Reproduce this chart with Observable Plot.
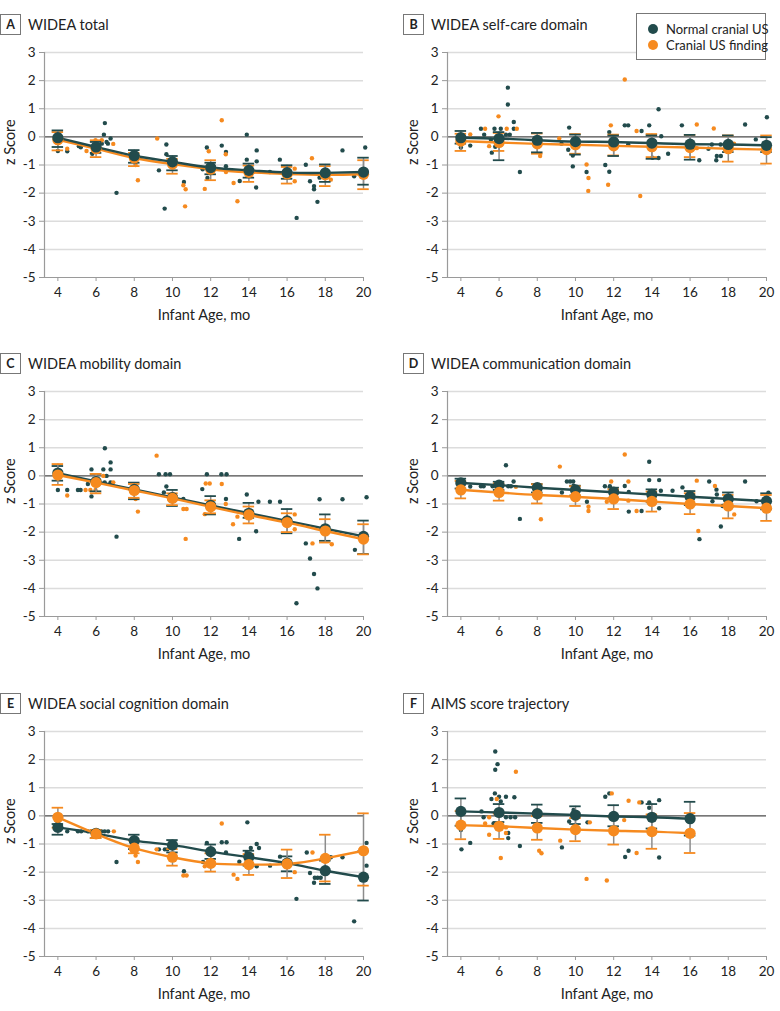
<!DOCTYPE html>
<html>
<head>
<meta charset="utf-8">
<script src="https://cdn.jsdelivr.net/npm/d3@7"></script>
<script src="https://cdn.jsdelivr.net/npm/@observablehq/plot@0.6"></script>
<style>
  html, body { margin: 0; padding: 0; background: #fff; }
  #page { position: relative; width: 780px; height: 1011px; font-family: Lato, "Noto Sans", sans-serif; color: #222; }
  .title { position: absolute; display: flex; align-items: center; font-size: 14.5px; white-space: nowrap; }
  .title .box { display: inline-block; width: 19px; height: 19px; line-height: 19px; border: 1px solid #777; text-align: center; font-weight: bold; font-size: 12.5px; margin-right: 7px; }
  .legend { position: absolute; left: 636px; top: 13px; width: 128px; height: 45px; border: 1px solid #777; background: #fff; z-index: 5; font-size: 13px; }
  .legend .row { position: absolute; left: 11px; display: flex; align-items: center; white-space: nowrap; height: 16px; }
  .legend .sw { width: 10px; height: 10px; border-radius: 50%; margin-right: 8px; flex: none; }
</style>
</head>
<body>
<div id="page"></div>
<script>
// ---------- shared scales / labels ----------
const ages = [4, 6, 8, 10, 12, 14, 16, 18, 20];
const agesF = [4, 6, 8, 10, 12, 14, 16];
const xTicks = [4, 6, 8, 10, 12, 14, 16, 18, 20];
const yTicks = [-5, -4, -3, -2, -1, 0, 1, 2, 3];
const gridValues = [-4, -3, -2, -1, 1, 2, 3];
const seriesNames = ["Normal cranial US", "Cranial US finding"];
const panelLetters = ["A", "B", "C", "D", "E", "F"];
const panelTitles = ["WIDEA total", "WIDEA self-care domain", "WIDEA mobility domain", "WIDEA communication domain", "WIDEA social cognition domain", "AIMS score trajectory"];
const xLabel = "Infant Age, mo";
const yLabel = "z Score";

// ---------- A: WIDEA total ----------
const aNormMean = [-0.03, -0.36, -0.67, -0.89, -1.09, -1.19, -1.27, -1.28, -1.25];
const aNormLo   = [-0.36, -0.57, -0.92, -1.19, -1.33, -1.45, -1.49, -1.60, -1.70];
const aNormHi   = [0.23, -0.18, -0.47, -0.68, -0.92, -0.95, -1.01, -0.98, -0.74];
const aFindMean = [-0.10, -0.42, -0.75, -0.97, -1.15, -1.26, -1.32, -1.35, -1.33];
const aFindLo   = [-0.48, -0.72, -1.04, -1.31, -1.54, -1.60, -1.66, -1.75, -1.86];
const aFindHi   = [0.17, -0.12, -0.57, -0.78, -0.83, -1.02, -1.07, -1.04, -0.83];
const aNormPts = [[4.0,-0.5],[4.49,-0.51],[5.1,-0.33],[5.2,-0.37],[5.8,-0.6],[6.46,0.49],[6.41,0.08],[6.3,-0.24],[6.62,-0.24],[6.76,-0.06],[6.55,-0.18],[7.07,-1.99],[9.29,-1.19],[9.59,-2.55],[9.68,-0.27],[9.68,-0.62],[10.6,-1.6],[11.58,-1.15],[11.8,-0.38],[11.83,-1.46],[12.58,-0.31],[12.8,-0.54],[12.8,-1.04],[13.52,-1.57],[13.89,0.08],[13.89,-0.81],[14.41,-0.48],[14.41,-0.87],[14.38,-1.8],[15.1,-1.25],[15.62,-0.81],[16.5,-2.88],[16.98,-0.99],[17.2,-1.58],[17.41,-1.75],[17.41,-1.86],[17.59,-2.31],[17.7,-1.45],[18.9,-0.48],[19.51,-1.4],[20.09,-0.38]];
const aFindPts = [[4.49,-0.42],[5.5,-0.5],[5.97,-0.12],[6.3,-0.12],[6.9,-0.25],[8.07,-1.0],[8.19,-1.54],[9.2,-0.06],[10.57,-1.72],[10.69,-1.86],[10.66,-2.47],[11.69,-1.85],[11.9,-0.51],[12.58,0.59],[12.79,-0.62],[12.8,-1.25],[13.2,-1.64],[13.4,-2.29],[16.4,-1.13],[16.4,-1.58],[17.3,-0.76],[18.29,-1.52]];

// ---------- B: self-care ----------
const bNormMean = [-0.03, -0.06, -0.12, -0.17, -0.18, -0.22, -0.26, -0.27, -0.30];
const bNormLo   = [-0.24, -0.83, -0.55, -0.63, -0.68, -0.78, -0.81, -0.54, -0.54];
const bNormHi   = [0.21, 0.17, 0.14, 0.08, 0.05, 0.05, 0.07, 0.05, -0.01];
const bFindMean = [-0.15, -0.20, -0.25, -0.28, -0.32, -0.35, -0.38, -0.42, -0.45];
const bFindLo   = [-0.50, -0.50, -0.60, -0.60, -0.66, -0.72, -0.72, -0.88, -0.95];
const bFindHi   = [0.11, 0.14, 0.12, 0.10, 0.08, 0.10, 0.07, 0.05, 0.05];
const bNormPts = [[4.49,-0.31],[4.0,-0.38],[5.05,0.29],[5.22,0.08],[5.57,-0.1],[5.62,-0.56],[5.76,0.29],[5.8,-0.35],[6.09,0.29],[6.46,1.75],[6.46,1.15],[6.36,0.08],[6.56,0.08],[6.77,0.53],[6.77,0.29],[7.09,-1.25],[9.27,-0.24],[9.67,0.33],[9.62,-0.46],[9.86,-1.05],[9.86,-0.66],[10.58,-1.25],[11.56,-1.0],[11.77,-1.24],[11.77,0.17],[12.58,0.41],[12.76,0.41],[12.76,-0.27],[13.46,0.21],[13.86,0.41],[14.03,-0.74],[14.35,0.98],[14.35,-0.75],[14.49,0.02],[14.85,-0.6],[15.57,0.41],[16.48,-0.83],[16.96,-0.42],[17.14,-0.27],[17.37,-0.83],[17.4,-0.68],[17.61,-0.68],[17.6,-0.27],[18.88,0.44],[19.44,-0.09],[20.02,0.7]];
const bFindPts = [[4.49,0.09],[5.27,0.29],[5.48,-0.33],[5.97,0.73],[6.4,0.29],[6.93,0.29],[8.15,-0.68],[9.15,-0.06],[10.58,-0.98],[10.68,-1.46],[10.67,-1.92],[11.71,-1.7],[11.85,0.41],[12.58,2.04],[13.2,0.21],[13.39,-2.1],[16.35,0.44],[16.35,-0.4],[17.24,0.3],[18.3,-0.24]];

// ---------- C: mobility ----------
const cNormMean = [0.10, -0.20, -0.48, -0.77, -1.05, -1.33, -1.60, -1.88, -2.15];
const cNormLo   = [-0.17, -0.55, -0.83, -1.07, -1.37, -1.49, -2.04, -2.31, -2.78];
const cNormHi   = [0.35, 0.07, -0.24, -0.50, -0.72, -0.96, -1.18, -1.37, -1.59];
const cFindMean = [0.03, -0.24, -0.52, -0.80, -1.10, -1.39, -1.66, -1.96, -2.25];
const cFindLo   = [-0.32, -0.62, -0.78, -1.04, -1.33, -1.69, -2.00, -2.37, -2.79];
const cFindHi   = [0.42, 0.07, -0.29, -0.62, -0.87, -1.09, -1.33, -1.54, -1.72];
const cNormPts = [[4.0,-0.5],[4.49,-0.5],[5.05,-0.5],[5.19,-0.5],[5.57,-0.29],[5.76,-0.73],[5.76,0.23],[6.46,0.98],[6.38,0.23],[6.45,-0.23],[6.55,0.0],[6.76,0.48],[6.76,0.23],[6.76,-0.23],[7.07,-2.16],[9.29,0.06],[9.64,0.06],[9.87,0.06],[9.55,-0.59],[9.68,-0.38],[10.57,-0.82],[11.56,-0.47],[11.8,0.06],[12.56,0.06],[12.83,0.06],[12.8,-0.82],[13.49,-2.24],[13.89,-0.66],[14.38,-1.97],[14.5,-0.92],[15.1,-0.92],[15.63,-0.92],[16.49,-4.53],[16.98,-2.4],[17.2,-2.94],[17.41,-3.49],[17.59,-4.0],[17.7,-0.83],[18.9,-0.83],[19.55,-2.63],[20.16,-0.76]];
const cFindPts = [[4.49,-0.7],[5.45,-0.5],[5.7,-0.5],[5.97,-0.5],[6.38,0.0],[6.9,-0.23],[8.07,-0.82],[8.19,-1.27],[9.17,0.72],[10.57,-1.18],[10.74,-1.18],[10.69,-2.24],[11.69,-1.36],[11.74,-0.27],[11.95,-0.27],[12.58,-0.29],[12.79,-1.0],[13.17,-1.72],[13.4,-1.45],[16.4,-1.37],[16.4,-1.9],[17.33,-2.4],[18.34,-2.43]];

// ---------- D: communication ----------
const dNormMean = [-0.25, -0.33, -0.42, -0.50, -0.58, -0.66, -0.74, -0.82, -0.90];
const dNormLo   = [-0.45, -0.50, -0.59, -0.70, -0.80, -0.92, -1.04, -1.10, -1.19];
const dNormHi   = [-0.10, -0.21, -0.29, -0.35, -0.42, -0.48, -0.54, -0.59, -0.62];
const dFindMean = [-0.50, -0.59, -0.68, -0.74, -0.82, -0.91, -1.00, -1.07, -1.15];
const dFindLo   = [-0.80, -0.88, -0.98, -1.07, -1.18, -1.27, -1.36, -1.51, -1.60];
const dFindHi   = [-0.18, -0.27, -0.30, -0.37, -0.48, -0.56, -0.62, -0.68, -0.68];
const dNormPts = [[4.49,-0.38],[5.05,-0.37],[5.19,-0.37],[5.66,-0.37],[6.36,0.38],[6.48,-0.37],[6.62,-0.37],[6.76,-0.2],[7.09,-1.53],[9.29,-0.59],[9.55,-0.2],[9.72,-0.2],[9.88,-0.2],[9.9,-0.35],[10.6,-0.92],[11.54,-0.37],[11.8,-0.37],[12.58,-0.36],[12.79,-0.57],[12.79,-1.27],[13.46,-1.25],[13.86,0.5],[13.86,-0.15],[14.38,-0.15],[14.47,-0.53],[14.38,-1.15],[15.08,-0.53],[15.6,-0.41],[16.49,-2.25],[17.0,-0.2],[17.17,-0.9],[17.38,-0.49],[17.4,-0.66],[17.61,-1.8],[17.7,-1.07],[18.88,-0.2],[19.48,-0.9],[20.1,-0.6]];
const dFindPts = [[6.88,-0.39],[8.19,-1.54],[9.18,0.33],[10.68,-1.1],[10.68,-1.25],[11.64,-0.92],[11.87,-0.2],[12.58,0.76],[12.77,-0.2],[12.77,-0.88],[13.2,-1.25],[16.35,-0.17],[16.43,-1.96],[17.3,-0.36],[18.31,-1.37]];

// ---------- E: social cognition ----------
const eNormMean = [-0.41, -0.62, -0.88, -1.04, -1.27, -1.47, -1.68, -1.95, -2.18];
const eNormLo   = [-0.67, -0.79, -1.18, -1.30, -1.53, -1.77, -1.97, -2.42, -3.01];
const eNormHi   = [-0.29, -0.50, -0.67, -0.86, -1.02, -1.24, -1.44, -1.59, -1.26];
const eFindMean = [-0.05, -0.64, -1.15, -1.47, -1.69, -1.73, -1.71, -1.51, -1.24];
const eFindLo   = [-0.42, -0.79, -1.33, -1.77, -1.98, -2.10, -2.21, -2.33, -2.48];
const eFindHi   = [0.29, -0.50, -0.88, -1.18, -1.33, -1.36, -1.20, -0.67, 0.09];
const eNormPts = [[4.49,-0.55],[5.05,-0.55],[5.22,-0.55],[5.57,-0.55],[5.8,-0.55],[6.1,-0.55],[6.28,-0.55],[6.45,-0.55],[6.63,-0.55],[7.07,-1.64],[9.29,-1.19],[9.6,-1.19],[9.73,-1.19],[10.6,-1.97],[11.6,-1.64],[11.8,-0.96],[12.58,-0.94],[12.83,-0.94],[12.8,-1.3],[13.5,-1.63],[13.92,-0.23],[13.89,-1.3],[14.1,-1.14],[14.41,-1.0],[14.53,-1.14],[14.41,-1.79],[15.11,-1.77],[15.63,-1.45],[16.49,-2.95],[17.03,-1.3],[17.2,-2.03],[17.41,-2.38],[17.45,-2.2],[17.6,-2.2],[17.76,-2.2],[18.29,-1.47],[18.9,-1.47],[19.51,-3.75],[20.16,-0.96],[20.16,-1.77]];
const eFindPts = [[6.93,-0.55],[8.07,-1.41],[8.19,-1.64],[9.17,-1.19],[10.57,-2.12],[10.74,-2.12],[11.69,-1.79],[12.58,-0.27],[13.2,-2.09],[13.4,-2.24],[16.4,-2.0],[17.33,-1.3]];

// ---------- F: AIMS ----------
const fNormMean = [0.16, 0.12, 0.08, 0.03, -0.02, -0.05, -0.10];
const fNormLo   = [-0.35, -0.22, -0.25, -0.29, -0.37, -0.45, -0.70];
const fNormHi   = [0.62, 0.42, 0.40, 0.34, 0.38, 0.42, 0.50];
const fFindMean = [-0.33, -0.37, -0.43, -0.49, -0.53, -0.56, -0.62];
const fFindLo   = [-0.83, -0.82, -0.85, -0.90, -1.02, -1.17, -1.32];
const fFindHi   = [0.17, 0.08, -0.01, -0.08, -0.04, 0.05, 0.10];
const fNormPts = [[4.0,-0.5],[4.03,-1.19],[4.49,-0.96],[5.08,0.16],[5.19,-0.05],[5.6,0.6],[5.71,-0.27],[5.8,2.29],[5.8,1.64],[5.92,1.84],[5.78,0.8],[6.0,0.68],[6.09,0.51],[6.36,0.68],[6.48,-0.61],[6.48,-0.79],[6.36,-0.05],[6.6,-0.05],[6.84,-0.05],[6.8,0.66],[7.09,-1.07],[9.29,-1.12],[9.67,-0.2],[9.9,0.21],[10.63,-0.23],[11.56,0.68],[11.77,0.8],[12.6,-1.46],[12.78,-1.24],[13.46,0.48],[13.86,0.48],[13.86,0.29],[14.38,0.56],[14.38,-1.48]];
const fFindPts = [[5.27,-0.27],[5.48,-0.05],[5.48,-0.67],[5.88,0.6],[6.09,-1.5],[6.36,-0.41],[6.36,-0.61],[6.88,1.57],[8.1,-1.24],[8.22,-1.33],[9.2,-0.88],[10.75,-0.23],[10.58,-2.24],[11.9,0.8],[11.64,-2.3],[12.55,-0.15],[12.78,0.54],[13.2,-1.32],[13.34,0.48],[14.1,0.04]];

// ---------- build ----------
const DARK = "#224b4c";
const ORANGE = "#f68a1f";
const STEM = "#8c8c8c";

function table(ag, mean, lo, hi) {
  return ag.map((a, i) => ({age: a, mean: mean[i], lo: lo[i], hi: hi[i]}));
}

const panels = [
  {norm: table(ages, aNormMean, aNormLo, aNormHi), find: table(ages, aFindMean, aFindLo, aFindHi), np: aNormPts, fp: aFindPts, darkTop: true},
  {norm: table(ages, bNormMean, bNormLo, bNormHi), find: table(ages, bFindMean, bFindLo, bFindHi), np: bNormPts, fp: bFindPts, darkTop: true},
  {norm: table(ages, cNormMean, cNormLo, cNormHi), find: table(ages, cFindMean, cFindLo, cFindHi), np: cNormPts, fp: cFindPts, darkTop: false},
  {norm: table(ages, dNormMean, dNormLo, dNormHi), find: table(ages, dFindMean, dFindLo, dFindHi), np: dNormPts, fp: dFindPts, darkTop: false},
  {norm: table(ages, eNormMean, eNormLo, eNormHi), find: table(ages, eFindMean, eFindLo, eFindHi), np: eNormPts, fp: eFindPts, darkTop: false},
  {norm: table(agesF, fNormMean, fNormLo, fNormHi), find: table(agesF, fFindMean, fFindLo, fFindHi), np: fNormPts, fp: fFindPts, darkTop: false}
];

const page = document.getElementById("page");
const CAP = 0.3;

function groupMarks(t, color) {
  return {
    bars: [
      Plot.ruleX(t, {x: "age", y1: "lo", y2: "hi", stroke: STEM, strokeWidth: 1.5}),
      Plot.ruleY(t, {y: "lo", x1: d => d.age - CAP, x2: d => d.age + CAP, stroke: color, strokeWidth: 1.8}),
      Plot.ruleY(t, {y: "hi", x1: d => d.age - CAP, x2: d => d.age + CAP, stroke: color, strokeWidth: 1.8})
    ],
    line: Plot.line(t, {x: "age", y: "mean", stroke: color, strokeWidth: 2.4, curve: "natural"}),
    dots: Plot.dot(t, {x: "age", y: "mean", r: 5.6, fill: color})
  };
}

panels.forEach((p, i) => {
  const col = i % 2, row = Math.floor(i / 2);
  const left = col === 0 ? 0 : 403;
  const rowOff = row * 339.4;

  const title = document.createElement("div");
  title.className = "title";
  title.style.left = left + "px";
  title.style.top = (rowOff + 14) + "px";
  title.innerHTML = `<span class="box">${panelLetters[i]}</span><span>${panelTitles[i]}</span>`;
  page.appendChild(title);

  const n = groupMarks(p.norm, DARK);
  const f = groupMarks(p.find, ORANGE);
  const first = p.darkTop ? f : n;
  const second = p.darkTop ? n : f;

  const svg = Plot.plot({
    width: 377, height: 290,
    marginLeft: 44, marginRight: 14, marginTop: 12, marginBottom: 53,
    x: {domain: [3.3, 20]},
    y: {domain: [-5, 3]},
    style: {fontFamily: "Lato, 'Noto Sans', sans-serif", fontSize: "13.5px", color: "#222", background: "transparent", overflow: "visible"},
    marks: [
      Plot.ruleY(gridValues, {stroke: "#dcdcdc", strokeWidth: 1.5}),
      Plot.ruleY([0], {stroke: "#4a4a4a", strokeWidth: 1.2}),
      Plot.ruleX([3.3], {stroke: "#9a9a9a", strokeWidth: 1.2}),
      Plot.ruleY([-5], {stroke: "#9a9a9a", strokeWidth: 1.2}),
      Plot.axisX(xTicks, {tickSize: 4, tickPadding: 6, stroke: "#9a9a9a", fill: "#222", label: null, tickFormat: d => String(d)}),
      Plot.axisY(yTicks, {tickSize: 5, tickPadding: 4, stroke: "#9a9a9a", fill: "#222", label: null, tickFormat: d => d < 0 ? "-" + (-d) : String(d)}),
      Plot.text([xLabel], {text: d => d, frameAnchor: "bottom", dy: 42, fontSize: 14.5, fill: "#222"}),
      Plot.text([yLabel], {text: d => d, frameAnchor: "left", dx: -34, rotate: -90, fontSize: 14.5, fill: "#222"}),
      Plot.dot(p.np, {x: d => d[0], y: d => d[1], r: 2.2, fill: DARK}),
      Plot.dot(p.fp, {x: d => d[0], y: d => d[1], r: 2.2, fill: ORANGE}),
      ...first.bars, ...second.bars,
      first.line, second.line,
      first.dots, second.dots
    ]
  });
  svg.style.position = "absolute";
  svg.style.left = left + "px";
  svg.style.top = (rowOff + 40) + "px";
  page.appendChild(svg);
});

// legend
const legend = document.createElement("div");
legend.className = "legend";
legend.innerHTML =
  `<div class="row" style="top:7px"><span class="sw" style="background:${DARK}"></span>${seriesNames[0]}</div>` +
  `<div class="row" style="top:23px"><span class="sw" style="background:${ORANGE}"></span>${seriesNames[1]}</div>`;
page.appendChild(legend);
</script>
</body>
</html>
